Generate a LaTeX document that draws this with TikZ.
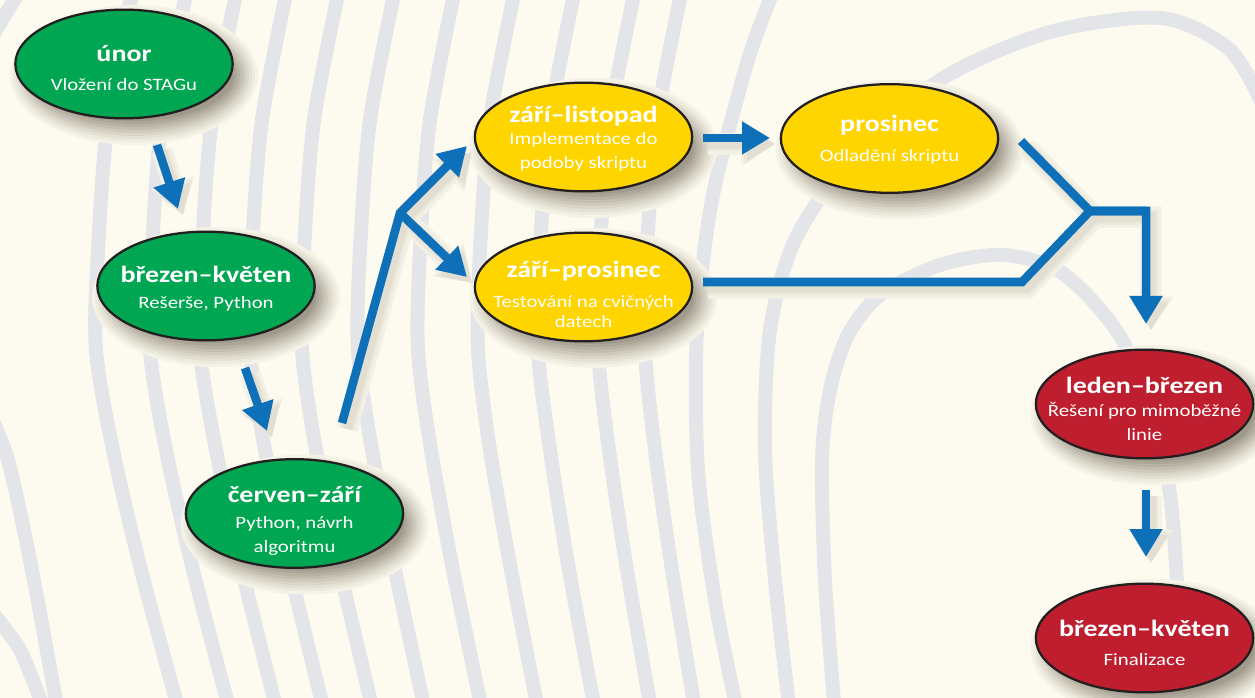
\documentclass[tikz,border=0pt]{standalone}
\usepackage{fontspec}
\setmainfont{Carlito}[FakeStretch=1.2]
\usetikzlibrary{shapes.geometric,arrows.meta,calc}
\definecolor{bg}{HTML}{FDFBEF}
\definecolor{contour}{HTML}{E4E5E8}
\definecolor{ngreen}{HTML}{00A651}
\definecolor{nyellow}{HTML}{FFD500}
\definecolor{nred}{HTML}{BE1E2D}
\definecolor{arrblue}{HTML}{0E70B9}
\definecolor{outline}{HTML}{231F20}
\definecolor{shadowcol}{HTML}{3A3020}
\colorlet{shz0}{shadowcol!4!bg}
\colorlet{shz1}{shadowcol!8!bg}
\colorlet{shz2}{shadowcol!13!bg}
\colorlet{shz3}{shadowcol!18!bg}
\colorlet{shz4}{shadowcol!24!bg}
\colorlet{shz5}{shadowcol!30!bg}
\colorlet{shz6}{shadowcol!36!bg}
\colorlet{shz7}{shadowcol!42!bg}
\colorlet{shz8}{shadowcol!48!bg}
\colorlet{sha}{shadowcol!5!bg}
\colorlet{shb}{shadowcol!9!bg}
\colorlet{shc}{shadowcol!14!bg}
\tikzset{
  ell/.style={ellipse, draw=outline, line width=1.7pt, inner sep=0pt,
    minimum width=163pt, minimum height=81.5pt},
  ttl/.style={anchor=base, inner sep=0pt, text=white, font=\fontsize{17.5pt}{20pt}\selectfont\bfseries},
  sub/.style={anchor=base, inner sep=0pt, text=white, font=\fontsize{13pt}{15pt}\selectfont},
  conn/.style={draw=arrblue, line width=6.4pt},
  arr/.style={conn, -{Triangle[length=21pt,width=23.5pt]}},
  sconnA/.style={draw=sha, line width=16pt},
  sarrA/.style={sconnA, -{Triangle[length=25pt,width=32pt]}},
  sconnB/.style={draw=shb, line width=11pt},
  sarrB/.style={sconnB, -{Triangle[length=23pt,width=28pt]}},
  sconnC/.style={draw=shc, line width=7pt},
  sarrC/.style={sconnC, -{Triangle[length=21pt,width=24pt]}},
  cline/.style={draw=contour, line width=10.5pt},
}
\newcommand\drawconnectors[3]{%
  \draw[#1] ($(p1)+(33,81)+(#3)$) -- ($(p2)+(-28,-77)+(#3)$);
  \draw[#1] ($(p2)+(39,82)+(#3)$) -- ($(p3)+(-27.5,-82.5)+(#3)$);
  \draw[#1, line join=miter] ($(p3)+(47.5,-90.5)+(#3)$) -- ($(j1)+(#3)$) -- ($(p4)+(-116.5,9)+(#3)$);
  \draw[#1] ($(j1)+(#3)$) -- ($(p5)+(-116.5,-10)+(#3)$);
  \draw[#1] ($(p4)+(119.5,1)+(#3)$) -- ($(p6)+(-119.5,-0.5)+(#3)$);
  \draw[#1, line join=miter] ($(p6)+(131.5,2.5)+(#3)$) -- ($(j2)+(#3)$) -- ($(c2)+(#3)$) -- ($(p7)+(1.5,-80)+(#3)$);
  \draw[#2, line join=miter] ($(p5)+(119.5,-5)+(#3)$) -- ($(c3)+(#3)$) -- ($(j2)+(#3)$) -- ($(c2)+(#3)$);
  \draw[#1] ($(p7)+(1.5,86)+(#3)$) -- ($(p8)+(1.5,-81)+(#3)$);
}
\newcommand\ellshadow[1]{%
  \fill[shz0] ($(#1)+(10,11)$) ellipse [x radius=124, y radius=70];
  \fill[shz1] ($(#1)+(10,11)$) ellipse [x radius=121, y radius=67];
  \fill[shz2] ($(#1)+(10,11)$) ellipse [x radius=118, y radius=64];
  \fill[shz3] ($(#1)+(10,11)$) ellipse [x radius=115, y radius=61];
  \fill[shz4] ($(#1)+(10,11)$) ellipse [x radius=112, y radius=58];
  \fill[shz5] ($(#1)+(10,11)$) ellipse [x radius=109, y radius=55];
  \fill[shz6] ($(#1)+(10,11)$) ellipse [x radius=106, y radius=52];
  \fill[shz7] ($(#1)+(10,11)$) ellipse [x radius=103, y radius=49];
  \fill[shz8] ($(#1)+(10,11)$) ellipse [x radius=100, y radius=46];
}
\begin{document}
\begin{tikzpicture}[x=0.75pt,y=-0.75pt]
\useasboundingbox (0,0) rectangle (1255,698);
\fill[bg] (0,0) rectangle (1255,698);
% background contour lines
\draw[cline] plot[smooth] coordinates {(-10,40) (5,15) (22,-12)};
\draw[cline] plot[smooth] coordinates {(-10,415) (8,460) (30,560) (58,712)};
\draw[cline] plot[smooth] coordinates {(-10,610) (20,650) (45,712)};
\draw[cline] plot[smooth] coordinates {(134,-15) (108,120) (98,250) (96,350) (113,450) (141,570) (180,715)};
\draw[cline] plot[smooth] coordinates {(188,-15) (162,120) (152,250) (150,350) (166,450) (193,570) (231,715)};
\draw[cline] plot[smooth] coordinates {(238,-15) (212,120) (202,250) (200,350) (216,450) (242,570) (278,715)};
\draw[cline] plot[smooth] coordinates {(288,-15) (262,120) (252,250) (250,350) (265,450) (290,570) (325,715)};
\draw[cline] plot[smooth] coordinates {(340,-15) (314,120) (304,250) (302,350) (316,450) (340,570) (374,715)};
\draw[cline] plot[smooth] coordinates {(396,-15) (370,120) (360,250) (358,350) (372,450) (395,570) (426,715)};
\draw[cline] plot[smooth] coordinates {(456,-15) (430,120) (420,250) (418,350) (431,450) (453,570) (483,715)};
\draw[cline] plot[smooth] coordinates {(516,-15) (490,120) (480,250) (478,350) (490,450) (511,570) (539,715)};
\draw[cline] plot[smooth] coordinates {(576,-15) (550,120) (540,250) (538,350) (550,450) (569,570) (596,715)};
\draw[cline] plot[smooth] coordinates {(636,-15) (610,120) (600,250) (598,350) (609,450) (627,570) (652,715)};
\draw[cline] plot[smooth] coordinates {(683,-15) (657,120) (647,250) (645,350) (655,450) (672,570) (696,715)};
\draw[cline] plot[smooth] coordinates {(776,-15) (748,60) (712,200) (697,330) (698,470) (715,600) (738,715)};
\draw[cline] plot[smooth] coordinates {(1265,110) (1230,50) (1161,18) (1050,32) (940,80) (850,160) (795,240) (770,330) (765,450) (775,580) (790,715)};
\draw[cline] plot[smooth] coordinates {(1180,715) (1178,600) (1166,470) (1125,345) (1065,275) (1005,255) (940,265) (880,295) (848,335) (830,390) (822,460) (825,580) (835,715)};
% node centres
\coordinate (p1) at (124,64);
\coordinate (p2) at (206,286);
\coordinate (p3) at (294.5,513.5);
\coordinate (p4) at (583.5,137);
\coordinate (p5) at (583.5,287);
\coordinate (p6) at (889.5,138.5);
\coordinate (p7) at (1144.5,404);
\coordinate (p8) at (1144.5,638);
\coordinate (j1) at ($(p3)+(105.5,-300.5)$);
\coordinate (j2) at ($(p6)+(200.5,72.5)$);
\coordinate (c2) at ($(p7)+(1.5,-193)$);
\coordinate (c3) at ($(p5)+(438.5,-5)$);
% soft drop shadows of the ellipses
\ellshadow{p1}
\ellshadow{p2}
\ellshadow{p3}
\ellshadow{p4}
\ellshadow{p5}
\ellshadow{p6}
\ellshadow{p7}
\ellshadow{p8}
% connector shadows
\drawconnectors{sarrA}{sconnA}{5,6}
\drawconnectors{sarrB}{sconnB}{5,6}
\drawconnectors{sarrC}{sconnC}{5,6}
% nodes
\node[ell, fill=ngreen] (n1) at (p1) {};
\node[ell, fill=ngreen] (n2) at (p2) {};
\node[ell, fill=ngreen] (n3) at (p3) {};
\node[ell, fill=nyellow] (n4) at (p4) {};
\node[ell, fill=nyellow] (n5) at (p5) {};
\node[ell, fill=nyellow] (n6) at (p6) {};
\node[ell, fill=nred] (n7) at (p7) {};
\node[ell, fill=nred] (n8) at (p8) {};
% texts
\node[ttl] (n1a) at ($(n1)+(0,-2)$) {únor};
\node[sub] (n1b) at ($(n1)+(0,27)$) {Vložení do STAGu};
\node[ttl] (n2a) at ($(n2)+(0,-3)$) {březen–květen};
\node[sub] (n2b) at ($(n2)+(0,23)$) {Rešerše, Python};
\node[ttl] (n3a) at ($(n3)+(0,-11.5)$) {červen–září};
\node[sub] (n3b) at ($(n3)+(0,14.5)$) {Python, návrh};
\node[sub] (n3c) at ($(n3)+(0,38.5)$) {algoritmu};
\node[ttl] (n4a) at ($(n4)+(0,-14)$) {září–listopad};
\node[sub] (n4b) at ($(n4)+(0,8)$) {Implementace do};
\node[sub] (n4c) at ($(n4)+(0,32)$) {podoby skriptu};
\node[ttl] (n5a) at ($(n5)+(0,-9)$) {září–prosinec};
\node[sub] (n5b) at ($(n5)+(0,20)$) {Testování na cvičných};
\node[sub] (n5c) at ($(n5)+(0,41)$) {datech};
\node[ttl] (n6a) at ($(n6)+(0,-6.5)$) {prosinec};
\node[sub] (n6b) at ($(n6)+(0,23.5)$) {Odladění skriptu};
\node[ttl] (n7a) at ($(n7)+(0,-11)$) {leden–březen};
\node[sub] (n7b) at ($(n7)+(0,12)$) {Řešení pro mimoběžné};
\node[sub] (n7c) at ($(n7)+(0,36)$) {linie};
\node[ttl] (n8a) at ($(n8)+(0,-2)$) {březen–květen};
\node[sub] (n8b) at ($(n8)+(0,27)$) {Finalizace};
% connectors
\drawconnectors{arr}{conn}{0,0}
\end{tikzpicture}
\end{document}
